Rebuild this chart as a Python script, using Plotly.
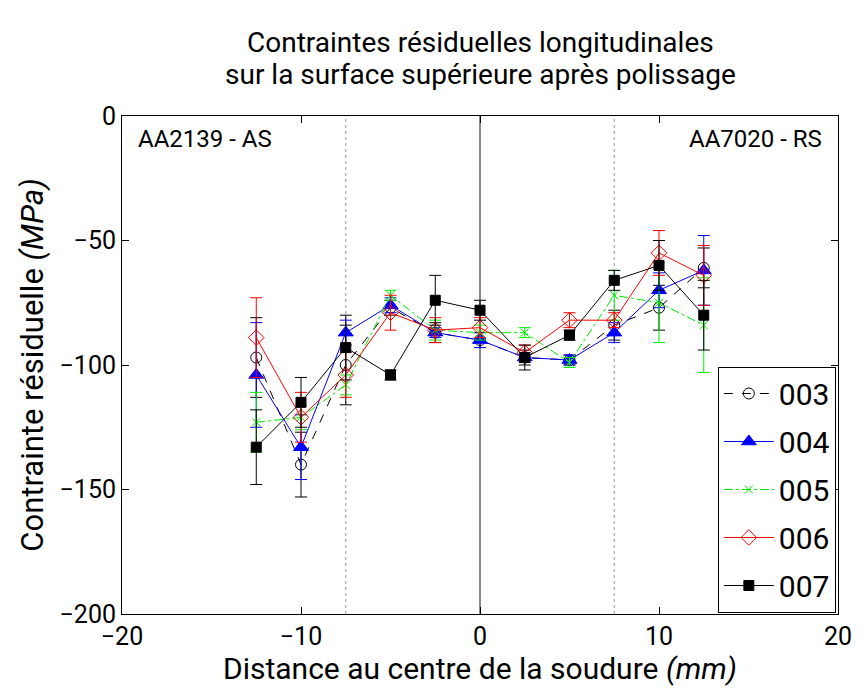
import plotly.graph_objects as go

# positions de mesure (mm)
x_pos = [-12.5, -10, -7.5, -5, -2.5, 0, 2.5, 5, 7.5, 10, 12.5]

s003 = [-97, -140, -100, -77, -87, -90, -97, -98, -84, -77, -61]
e003 = [16, 13, 16, 3, 4, 3, 3, 2, 6, 9, 8]
s004 = [-104, -133, -87, -76, -87, -90, -97, -98, -87, -70, -62]
e004 = [21, 13, 5, 3, 2, 3, 2, 2, 4, 7, 14]
s005 = [-123, -121, -108, -72, -86, -87, -87, -99, -72, -75, -84]
e005 = [12, 5, 4, 2, 4, 3, 2, 2, 10, 16, 19]
s006 = [-89, -121, -104, -79, -86, -85, -95, -82, -82, -55, -64]
e006 = [16, 10, 9, 7, 5, 4, 3, 3, 3, 9, 12]
s007 = [-133, -115, -93, -104, -74, -78, -97, -88, -66, -60, -80]
e007 = [15, 10, 13, 2, 10, 4, 5, 2, 4, 10, 14]

names = ['003', '004', '005', '006', '007']

FONT = "Roboto"

fig = go.Figure()

# lignes de repere
fig.add_shape(type="line", x0=0, x1=0, y0=-200, y1=0, line=dict(color="#666666", width=1.5), layer="below")
for xv in [-7.5, 7.5]:
    fig.add_shape(type="line", x0=xv, x1=xv, y0=-200, y1=0, line=dict(color="#aaaaaa", width=1.2, dash="dot"), layer="below")

def add(y, e, name, color, dash, symbol, msize, mline_col, mfill):
    fig.add_trace(go.Scatter(
        x=x_pos, y=y, name=name, mode="lines+markers", legendgroup=name,
        line=dict(color=color, width=1, dash=dash),
        marker=dict(symbol=symbol, size=msize, color=mfill, line=dict(color=mline_col, width=1)),
        error_y=dict(type="data", array=e, visible=True, color=color, thickness=1, width=6),
    ))

add(s003, e003, names[0], "black", "dash", "circle-open", 11, "black", "black")
add(s004, e004, names[1], "blue", "solid", "triangle-up", 13, "blue", "blue")
add(s005, e005, names[2], "#00ee00", "dashdot", "x-thin", 8, "#00ee00", "#00ee00")
add(s006, e006, names[3], "red", "solid", "diamond-open", 12, "red", "red")
add(s007, e007, names[4], "black", "solid", "square", 10, "black", "black")

fig.update_layout(
    width=860, height=695,
    margin=dict(l=114, r=30, t=108, b=89),
    paper_bgcolor="white", plot_bgcolor="white",
    font=dict(family=FONT, size=26, color="black"),
    showlegend=True,
    legend=dict(
        x=0.997, y=0.003, xanchor="right", yanchor="bottom",
        bordercolor="black", borderwidth=1, bgcolor="white",
        font=dict(family=FONT, size=30), itemwidth=50, tracegroupgap=6,
    ),
    xaxis=dict(
        range=[-20, 20], tickvals=[-20, -10, 0, 10, 20],
        ticks="inside", ticklen=7, tickcolor="black",
        showline=True, linecolor="black", linewidth=1, mirror="ticks",
        showgrid=False, zeroline=False, automargin=False,
        title=dict(text="Distance au centre de la soudure <i>(mm)</i>", standoff=0, font=dict(size=30)),
        tickfont=dict(size=25),
    ),
    yaxis=dict(
        range=[-200, 0], tickvals=[0, -50, -100, -150, -200],
        ticks="inside", ticklen=7, tickcolor="black",
        showline=True, linecolor="black", linewidth=1, mirror="ticks",
        showgrid=False, zeroline=False, automargin=False,
        title=dict(text="Contrainte résiduelle <i>(MPa)</i>", standoff=6, font=dict(size=31)),
        tickfont=dict(size=25),
    ),
    annotations=[
        dict(text="Contraintes résiduelles longitudinales", x=0.5, y=1.147, xref="paper", yref="paper",
             xanchor="center", yanchor="middle", showarrow=False, font=dict(family=FONT, size=28)),
        dict(text="sur la surface supérieure après polissage", x=0.5, y=1.083, xref="paper", yref="paper",
             xanchor="center", yanchor="middle", showarrow=False, font=dict(family=FONT, size=28)),
        dict(text="AA2139 - AS", x=0.02, y=0.985, xref="paper", yref="paper",
             xanchor="left", yanchor="top", showarrow=False, font=dict(family=FONT, size=24)),
        dict(text="AA7020 - RS", x=0.98, y=0.985, xref="paper", yref="paper",
             xanchor="right", yanchor="top", showarrow=False, font=dict(family=FONT, size=24)),
    ],
)

fig.write_html("out.html")
